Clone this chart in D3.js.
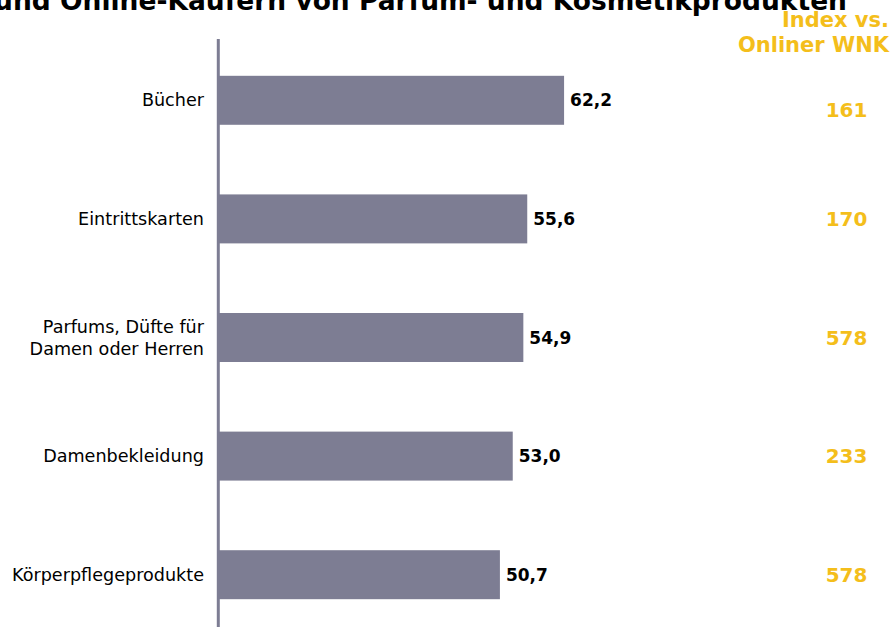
<!DOCTYPE html>
<html>
<head>
<meta charset="utf-8">
<script src="https://cdn.jsdelivr.net/npm/d3@7"></script>
<style>
  html, body { margin: 0; padding: 0; background: #ffffff; }
  svg { display: block; }
  text { font-family: "DejaVu Sans", Verdana, sans-serif; }
</style>
</head>
<body>
<svg id="chart" width="893" height="627"></svg>
<script>
// Products bought by online buyers of perfume and cosmetics (share in %)
const categories = [
  ["Bücher"],
  ["Eintrittskarten"],
  ["Parfums, Düfte für", "Damen oder Herren"],
  ["Damenbekleidung"],
  ["Körperpflegeprodukte"]
];
const shares = [62.2, 55.6, 54.9, 53.0, 50.7];
// Index vs. online WNK population
const indexValues = [161, 170, 578, 233, 578];

const titleLine = "und Online-Käufern von Parfum- und Kosmetikprodukten";
const indexHeader = ["Index vs.", "Onliner WNK"];

const barColor = "#7d7d93";
const accent = "#f4be1b";

const svg = d3.select("#chart");

const keys = categories.map((c, i) => i);

const x = d3.scaleLinear().domain([0, 100]).range([217, 775]);
const y = d3.scaleBand()
  .domain(keys)
  .range([41, 634])
  .paddingInner(0.587)
  .paddingOuter(0.2935);

const fmt = v => d3.format(".1f")(v).replace(".", ",");

// Title (continuation line at the very top)
svg.append("text")
  .attr("x", 847)
  .attr("y", 10)
  .attr("text-anchor", "end")
  .attr("font-size", 26.5)
  .attr("font-weight", "bold")
  .attr("fill", "#000")
  .text(titleLine);

// Column header for the index
svg.append("g")
  .selectAll("text")
  .data(indexHeader)
  .join("text")
  .attr("x", 889)
  .attr("y", (d, i) => 27 + i * 25)
  .attr("text-anchor", "end")
  .attr("font-size", 21)
  .attr("font-weight", "bold")
  .attr("fill", accent)
  .text(d => d);

// Bars
svg.append("g")
  .selectAll("rect")
  .data(shares)
  .join("rect")
  .attr("x", x(0))
  .attr("y", (d, i) => y(i))
  .attr("width", d => x(d) - x(0))
  .attr("height", y.bandwidth())
  .attr("fill", barColor);

// Category axis line
svg.append("line")
  .attr("x1", 218.3).attr("x2", 218.3)
  .attr("y1", 39).attr("y2", 634)
  .attr("stroke", barColor)
  .attr("stroke-width", 3);

// Category labels
const catG = svg.append("g");
categories.forEach((lines, i) => {
  const cy = y(i) + y.bandwidth() / 2;
  const lh = 22;
  const t = catG.append("text")
    .attr("text-anchor", "end")
    .attr("font-size", 17.6)
    .attr("fill", "#000");
  lines.forEach((line, j) => {
    t.append("tspan")
      .attr("x", 204)
      .attr("y", cy + 6 + (j - (lines.length - 1) / 2) * lh)
      .text(line);
  });
});

// Value labels
svg.append("g")
  .selectAll("text")
  .data(shares)
  .join("text")
  .attr("x", d => x(d) + 6)
  .attr("y", (d, i) => y(i) + y.bandwidth() / 2 + 6)
  .attr("font-size", 17)
  .attr("font-weight", "bold")
  .attr("fill", "#000")
  .text(d => fmt(d));

// Index values
svg.append("g")
  .selectAll("text")
  .data(indexValues)
  .join("text")
  .attr("x", 846.5)
  .attr("y", (d, i) => y(i) + y.bandwidth() / 2 + 7 + (i === 0 ? 10 : 0))
  .attr("text-anchor", "middle")
  .attr("font-size", 20)
  .attr("font-weight", "bold")
  .attr("fill", accent)
  .text(d => d);
</script>
</body>
</html>
